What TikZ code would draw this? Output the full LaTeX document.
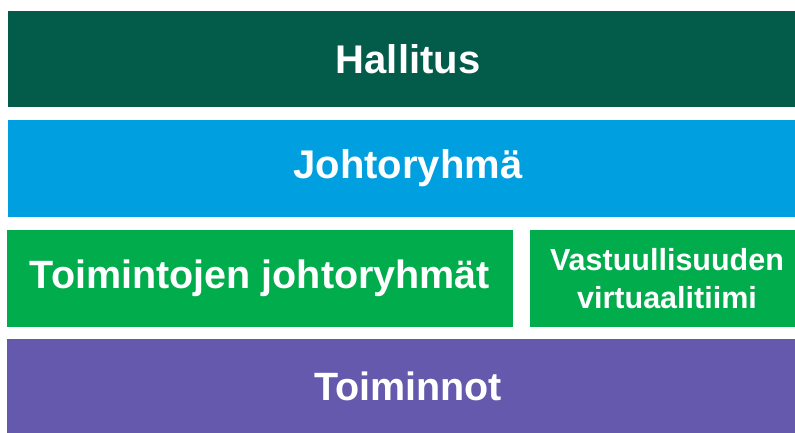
\documentclass[tikz,border=0pt]{standalone}
\usepackage{fontspec}
\setmainfont{Liberation Sans}
\definecolor{cdark}{HTML}{035B4A}
\definecolor{cblue}{HTML}{009FDF}
\definecolor{cgreen}{HTML}{00AC4B}
\definecolor{cpurple}{HTML}{6559AE}
\tikzset{
  bar/.style={rectangle, inner sep=0pt, text=white, font=\bfseries\fontsize{40}{44}\selectfont, align=center},
}
\begin{document}
\begin{tikzpicture}[x=1pt,y=-1pt]
\useasboundingbox (0,0) rectangle (795,433);
\clip (0,0) rectangle (795,433);
\node[bar, fill=cdark, minimum width=800pt, minimum height=96pt] (hallitus) at (408,59) {Hallitus};
\node[bar, fill=cblue, minimum width=800pt, minimum height=97pt] (johto) at (408,168.5) {Johtoryhmä};
\node[bar, fill=cgreen, minimum width=506pt, minimum height=97pt, font=\bfseries\fontsize{39.5}{44}\selectfont] (toimjohto) at (260,278.5) {Toimintojen johtoryhmät};
\node[bar, fill=cgreen, minimum width=274pt, minimum height=97pt, font=\bfseries\fontsize{30.5}{38}\selectfont] (vast) at (667,278.5) {Vastuullisuuden\\virtuaalitiimi};
\node[bar, fill=cpurple, minimum width=802pt, minimum height=94pt, font=\bfseries\fontsize{39.5}{44}\selectfont] (toiminnot) at (408,386) {Toiminnot};
\end{tikzpicture}
\end{document}
